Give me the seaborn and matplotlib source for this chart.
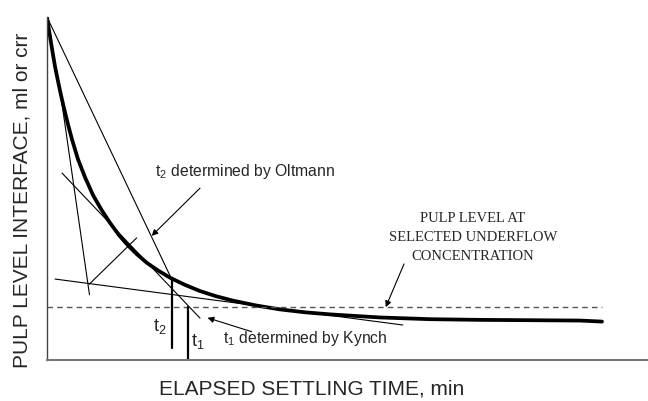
import matplotlib
matplotlib.use("Agg")
import matplotlib.pyplot as plt
import seaborn as sns
import pandas as pd

# settling curve (elapsed time in min, interface height in arbitrary units)
time_min = [0.00, 0.33, 0.67, 1.00, 1.33, 1.83, 2.33, 2.83, 3.49, 4.16,
            5.16, 6.32, 7.65, 8.99, 10.48, 11.98, 13.48, 14.98, 16.64,
            18.47, 20.47, 22.96, 25.46, 28.12, 30.95, 34.78, 38.77, 42.93,
            47.09, 55.41, 63.73, 72.05, 80.37, 88.69, 92.35]
height = [100.0, 96.2, 92.5, 89.0, 85.6, 81.3, 77.2, 73.4, 68.7, 64.3,
          58.5, 53.3, 48.1, 44.0, 40.0, 36.4, 33.4, 30.8, 28.3,
          26.1, 24.0, 21.9, 20.1, 18.6, 17.3, 15.9, 14.75, 13.9,
          13.3, 12.4, 11.9, 11.7, 11.6, 11.5, 11.2]

# construction lines (x pair, y pair)
oltmann_x = [0.0, 20.9]
oltmann_y = [100.0, 23.0]
initial_x = [2.33, 7.07]
initial_y = [76.7, 19.0]
compression_x = [1.33, 59.2]
compression_y = [23.6, 10.2]
bisector_x = [7.03, 14.92]
bisector_y = [22.1, 35.6]
kynch_x = [2.50, 25.46]
kynch_y = [54.5, 12.2]

underflow_level = 15.45
underflow_end = 92.35

t2_x = 20.75
t2_y = [3.5, 23.3]
t1_x = 23.51
t1_y = [0.0, 15.45]

df = pd.DataFrame({"time": time_min, "height": height})

sns.set_style("white")
plt.rcParams["font.family"] = ["Liberation Sans", "DejaVu Sans"]
plt.rcParams["mathtext.fontset"] = "custom"
plt.rcParams["mathtext.rm"] = "Liberation Sans"
plt.rcParams["mathtext.it"] = "Liberation Sans:italic"

fig = plt.figure(figsize=(6.48, 4.01), dpi=100)
ax = fig.add_axes([47 / 648, 41 / 401, 601 / 648, 343 / 401])

thin = dict(color="black", lw=0.8)
ax.plot(oltmann_x, oltmann_y, **thin)
ax.plot(initial_x, initial_y, **thin)
ax.plot(compression_x, compression_y, **thin)
ax.plot(bisector_x, bisector_y, **thin)
ax.plot(kynch_x, kynch_y, **thin)

sns.lineplot(data=df, x="time", y="height", ax=ax, color="black",
             lw=2.7, estimator=None)

ax.plot([0, underflow_end], [underflow_level, underflow_level],
        color="#555555", lw=1.0, ls=(0, (4, 3)))

ax.plot([t2_x, t2_x], t2_y, color="black", lw=1.6)
ax.plot([t1_x, t1_x], t1_y, color="black", lw=1.6)

ax.text(18.8, 9.9, r"$\mathrm{t_2}$", fontsize=13, ha="center", va="center")
ax.text(25.1, 5.5, r"$\mathrm{t_1}$", fontsize=13, ha="center", va="center")

arrow = dict(arrowstyle="-|>", color="black", lw=0.8, mutation_scale=9,
             shrinkA=0, shrinkB=0)
ax.text(17.97, 55.1, r"$\mathrm{t_2}$ determined by Oltmann", fontsize=11.3,
        ha="left", va="center")
ax.annotate("", xy=(17.42, 36.2), xytext=(25.46, 50.1), arrowprops=arrow)

ax.text(29.28, 6.4, r"$\mathrm{t_1}$ determined by Kynch", fontsize=11.3,
        ha="left", va="center")
ax.annotate("", xy=(26.71, 12.3), xytext=(34.06, 8.25), arrowprops=arrow)

ax.text(70.88, 35.7, "PULP LEVEL AT\nSELECTED UNDERFLOW\nCONCENTRATION",
        fontsize=10.5, family="Liberation Serif", ha="center", va="center",
        linespacing=1.6)
ax.annotate("", xy=(56.36, 15.4), xytext=(59.4, 28.0), arrowprops=arrow)

ax.set_xlim(0, 100)
ax.set_ylim(0, 100)
ax.set_xticks([])
ax.set_yticks([])
sns.despine(ax=ax)
ax.spines["left"].set_color("#444444")
ax.spines["left"].set_linewidth(1.0)
ax.spines["bottom"].set_color("#777777")
ax.spines["bottom"].set_linewidth(1.5)

ax.set_xlabel("ELAPSED SETTLING TIME, min", fontsize=15)
ax.set_ylabel("PULP LEVEL INTERFACE, ml or crr", fontsize=15)
ax.xaxis.set_label_coords(0.441, -0.0554)
ax.yaxis.set_label_coords(-0.026, 0.464)

fig.savefig("out.png", dpi=100)
